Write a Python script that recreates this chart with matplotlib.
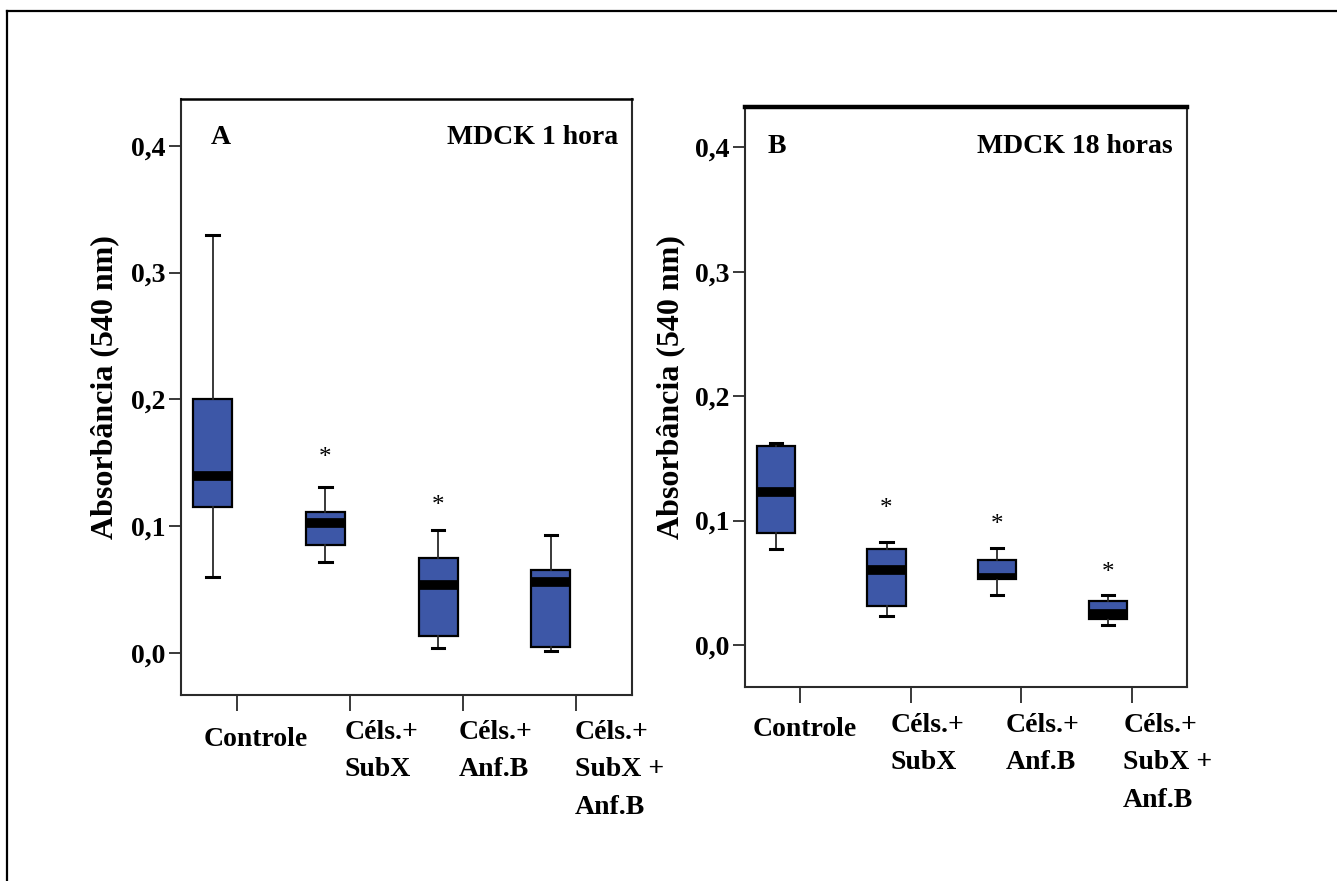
"""
Boxplots of absorbance (540 nm) for MDCK cells after 1 hour and 18 hours.
Two panels side by side, SPSS-like style.
"""
import matplotlib
matplotlib.use('Agg')
import matplotlib.pyplot as plt
from matplotlib.lines import Line2D

plt.rcParams['font.family'] = ['Liberation Serif', 'DejaVu Serif']
plt.rcParams['font.weight'] = 'bold'

# Categories and axis text
groups = ['Controle', 'Céls.+\nSubX', 'Céls.+\nAnf.B', 'Céls.+\nSubX +\nAnf.B']
y_ticks = [0.0, 0.1, 0.2, 0.3, 0.4]
y_tick_labels = ['0,0', '0,1', '0,2', '0,3', '0,4']
y_label = 'Absorbância (540 nm)'

# Panel A - MDCK 1 hora
h1_whislo = [0.060, 0.072, 0.004, 0.002]
h1_q1 = [0.115, 0.085, 0.014, 0.005]
h1_med = [0.140, 0.103, 0.054, 0.056]
h1_q3 = [0.200, 0.111, 0.075, 0.066]
h1_whishi = [0.330, 0.131, 0.097, 0.093]
h1_star = [None, 0.157, 0.119, None]

# Panel B - MDCK 18 horas
h18_whislo = [0.077, 0.023, 0.040, 0.016]
h18_q1 = [0.090, 0.031, 0.053, 0.021]
h18_med = [0.123, 0.060, 0.054, 0.025]
h18_q3 = [0.160, 0.077, 0.068, 0.035]
h18_whishi = [0.162, 0.083, 0.078, 0.040]
h18_star = [None, 0.112, 0.0995, 0.0605]

BOX_COLOR = '#3d57a7'
LINE_COLOR = '#2a2a2a'
BOX_SHIFT = -0.22   # boxes sit left of the category ticks


def draw_panel(ax, letter, title, whislo, q1, med, q3, whishi, stars,
               ylim, label_x, label_dy, top_lw):
    stats = []
    for i in range(len(groups)):
        stats.append({'whislo': whislo[i], 'q1': q1[i], 'med': med[i],
                      'q3': q3[i], 'whishi': whishi[i], 'fliers': []})

    positions = [i + BOX_SHIFT for i in range(len(groups))]
    parts = ax.bxp(stats, positions=positions, widths=0.345, capwidths=0.11,
                   patch_artist=True, showfliers=False,
                   boxprops=dict(facecolor=BOX_COLOR, edgecolor='black', linewidth=1.6),
                   medianprops=dict(color='black', linewidth=7, solid_capstyle='butt'),
                   whiskerprops=dict(color=LINE_COLOR, linewidth=1.3),
                   capprops=dict(color='black', linewidth=2.2))

    # Keep the thick median band inside its box
    for box, median in zip(parts['boxes'], parts['medians']):
        median.set_clip_path(box)

    # Significance asterisks
    for x, y in zip(positions, stars):
        if y is not None:
            ax.annotate('*', xy=(x, y), xytext=(0, -7), textcoords='offset points',
                        ha='center', va='baseline', fontsize=18, fontweight='normal')

    ax.set_xlim(-0.5, len(groups) - 0.5)
    ax.set_ylim(*ylim)

    ax.set_yticks(y_ticks)
    ax.set_yticklabels(y_tick_labels)
    ax.set_xticks(range(len(groups)))
    ax.set_xticklabels([])
    ax.tick_params(axis='y', direction='out', length=8.5, width=1.3, pad=2.5,
                   labelsize=20, color=LINE_COLOR)
    ax.tick_params(axis='x', direction='out', length=11.5, width=1.3, color=LINE_COLOR)

    # Category labels, left aligned under each tick
    for i, name in enumerate(groups):
        ax.annotate(name, xy=(label_x[i], 0), xycoords=('data', 'axes fraction'),
                    xytext=(0, -label_dy[i]), textcoords='offset points',
                    ha='left', va='top', fontsize=20, linespacing=1.65,
                    multialignment='left')

    for spine in ax.spines.values():
        spine.set_color(LINE_COLOR)
        spine.set_linewidth(1.5)
    ax.spines['top'].set_linewidth(top_lw)
    ax.spines['top'].set_color('black')

    ax.text(-0.1685, 0.517, y_label, rotation=90, ha='center', va='center',
            fontsize=23, transform=ax.transAxes)
    ax.text(letter[1], letter[2], letter[0], ha='left', va='center',
            fontsize=20, transform=ax.transAxes)
    ax.text(title[1], title[2], title[0], ha='right', va='center',
            fontsize=20, transform=ax.transAxes)


fig = plt.figure(figsize=(13.37, 8.81), dpi=100)

ax_a = fig.add_axes([0.1354, 0.2111, 0.3373, 0.6765])
draw_panel(ax_a, ('A', 0.0665, 0.936), ('MDCK 1 hora', 0.969, 0.936),
           h1_whislo, h1_q1, h1_med, h1_q3, h1_whishi, h1_star,
           ylim=(-0.0329, 0.4368),
           label_x=[-0.30, 0.95, 1.96, 2.99],
           label_dy=[23, 18, 18, 18], top_lw=1.8)

ax_b = fig.add_axes([0.5572, 0.2206, 0.3308, 0.6583])
draw_panel(ax_b, ('B', 0.052, 0.9305), ('MDCK 18 horas', 0.9677, 0.9305),
           h18_whislo, h18_q1, h18_med, h18_q3, h18_whishi, h18_star,
           ylim=(-0.0335, 0.4326),
           label_x=[-0.43, 0.82, 1.86, 2.92],
           label_dy=[22, 19, 19, 19], top_lw=3.2)

# Outer frame of the original figure (top and left edges only are visible)
fig.add_artist(Line2D([0.0052, 1.0], [0.987, 0.987], color='black', linewidth=1.6))
fig.add_artist(Line2D([0.0052, 0.0052], [0.0, 0.987], color='black', linewidth=1.6))

plt.savefig('out.png', dpi=100)
